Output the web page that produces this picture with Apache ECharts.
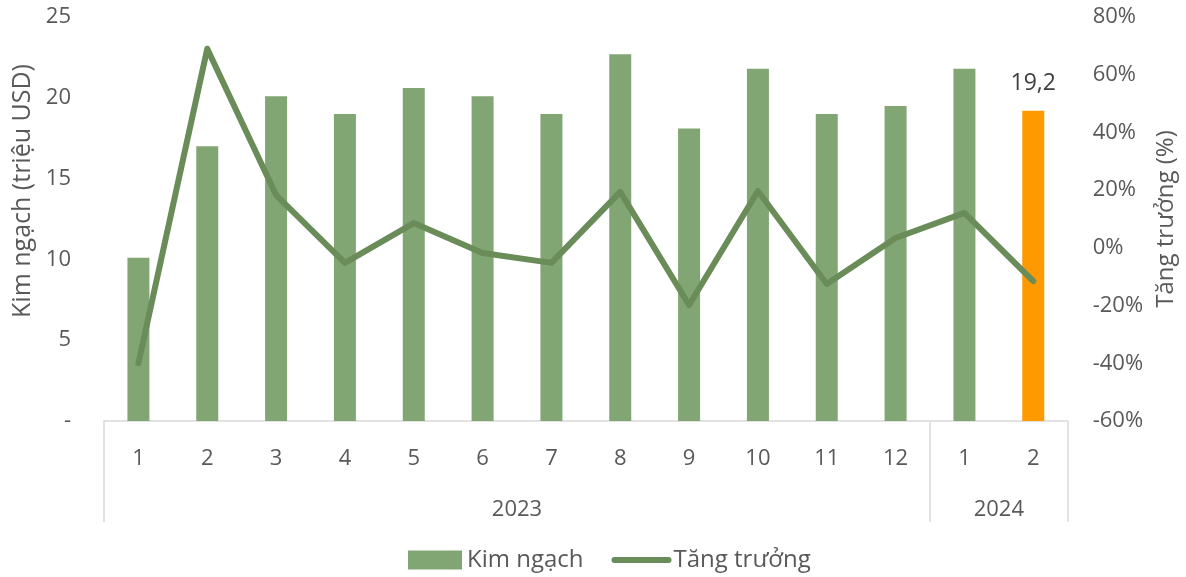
<!DOCTYPE html>
<html>
<head>
<meta charset="utf-8">
<script src="https://cdn.jsdelivr.net/npm/echarts@6/dist/echarts.min.js"></script>
<style>
  html, body { margin: 0; padding: 0; background: #ffffff; }
  #chart { width: 1186px; height: 577px; }
</style>
</head>
<body>
<div id="chart"></div>
<script>
// Monthly export value (million USD) and month-over-month growth (%)
const months = ['1', '2', '3', '4', '5', '6', '7', '8', '9', '10', '11', '12', '1', '2'];
const years = ['2023', '2024'];
const kimNgach = [10.1, 17.0, 20.1, 19.0, 20.6, 20.1, 19.0, 22.7, 18.1, 21.8, 19.0, 19.5, 21.8, 19.2];
const tangTruong = [-40, 69, 18.3, -5.2, 8.6, -1.8, -5.2, 19.4, -19.8, 19.7, -12.5, 3.4, 12.1, -11.5];

const FONT = '"Open Sans", "Liberation Sans", sans-serif';
const TEXT = '#595959';
const GREEN_BAR = '#82A574';
const GREEN_LINE = '#6A8C59';
const ORANGE = '#FF9900';
const RULE = '#D9D9D9';

// Year groups: each year starts where the month label returns to '1'
const yearStarts = months.map((m, i) => (m === '1' ? i : -1)).filter(i => i >= 0);
const yearCenters = {};
yearStarts.forEach((s, k) => {
  const e = k + 1 < yearStarts.length ? yearStarts[k + 1] : months.length;
  yearCenters[(s + e) / 2] = years[k];
});

// The latest month is highlighted and labelled with its value
const last = kimNgach.length - 1;
const barData = kimNgach.map((v, i) => i === last
  ? { value: v, itemStyle: { color: ORANGE },
      label: { show: true, position: 'top', distance: 16,
               formatter: p => String(p.value).replace('.', ','),
               fontFamily: FONT, fontSize: 23, color: '#404040' } }
  : v);

const chart = echarts.init(document.getElementById('chart'), null, { renderer: 'canvas' });
chart.setOption({
  animation: false,
  backgroundColor: '#ffffff',
  textStyle: { fontFamily: FONT },
  grid: { left: 104, right: 116, top: 17, bottom: 156, containLabel: false },
  legend: {
    left: 403, bottom: 0,
    itemWidth: 54, itemHeight: 19, itemGap: 28,
    textStyle: { fontFamily: FONT, fontSize: 24, color: TEXT },
    data: [
      { name: 'Kim ngạch', icon: 'rect' },
      { name: 'Tăng trưởng', lineStyle: { width: 6, cap: 'round' }, itemStyle: { opacity: 0 } }
    ]
  },
  xAxis: [
    {
      type: 'category',
      data: months,
      boundaryGap: true,
      axisLine: { show: true, lineStyle: { color: RULE, width: 1.5 } },
      axisTick: {
        show: true, length: 101,
        interval: (i, v) => v === '1',
        lineStyle: { color: RULE, width: 1.5 }
      },
      axisLabel: { interval: 0, margin: 27, fontFamily: FONT, fontSize: 22, color: TEXT },
      splitLine: { show: false }
    },
    {
      type: 'value',
      position: 'bottom',
      offset: 51,
      min: 0, max: months.length, interval: 0.5,
      axisLine: { show: false }, axisTick: { show: false }, splitLine: { show: false },
      axisLabel: {
        margin: 27, fontFamily: FONT, fontSize: 22, color: TEXT,
        showMinLabel: true, showMaxLabel: true,
        formatter: v => yearCenters[v] || ''
      }
    }
  ],
  yAxis: [
    {
      type: 'value',
      min: 0, max: 25, interval: 5,
      name: 'Kim ngạch (triệu USD)',
      nameLocation: 'middle', nameRotate: 90, nameGap: 68,
      nameTextStyle: { fontFamily: FONT, fontSize: 25, color: TEXT, padding: [0, 0, 0, 56] },
      axisLine: { show: false }, axisTick: { show: false }, splitLine: { show: false },
      axisLabel: { margin: 33, fontFamily: FONT, fontSize: 22, color: TEXT,
                   formatter: v => (v === 0 ? '-' : String(v)) }
    },
    {
      type: 'value',
      position: 'right',
      min: -60, max: 80, interval: 20,
      name: 'Tăng trưởng (%)',
      nameLocation: 'middle', nameRotate: 90, nameGap: 82,
      nameTextStyle: { fontFamily: FONT, fontSize: 24, color: TEXT },
      axisLine: { show: false }, axisTick: { show: false }, splitLine: { show: false },
      axisLabel: { margin: 25, fontFamily: FONT, fontSize: 22, color: TEXT,
                   formatter: v => v + '%' }
    }
  ],
  series: [
    {
      name: 'Kim ngạch',
      type: 'bar',
      xAxisIndex: 0, yAxisIndex: 0,
      barWidth: 22,
      itemStyle: { color: GREEN_BAR },
      data: barData
    },
    {
      name: 'Tăng trưởng',
      type: 'line',
      xAxisIndex: 0, yAxisIndex: 1,
      symbol: 'none',
      lineStyle: { color: GREEN_LINE, width: 6, join: 'round', cap: 'round' },
      itemStyle: { color: GREEN_LINE },
      data: tangTruong,
      z: 3
    }
  ]
});
</script>
</body>
</html>
